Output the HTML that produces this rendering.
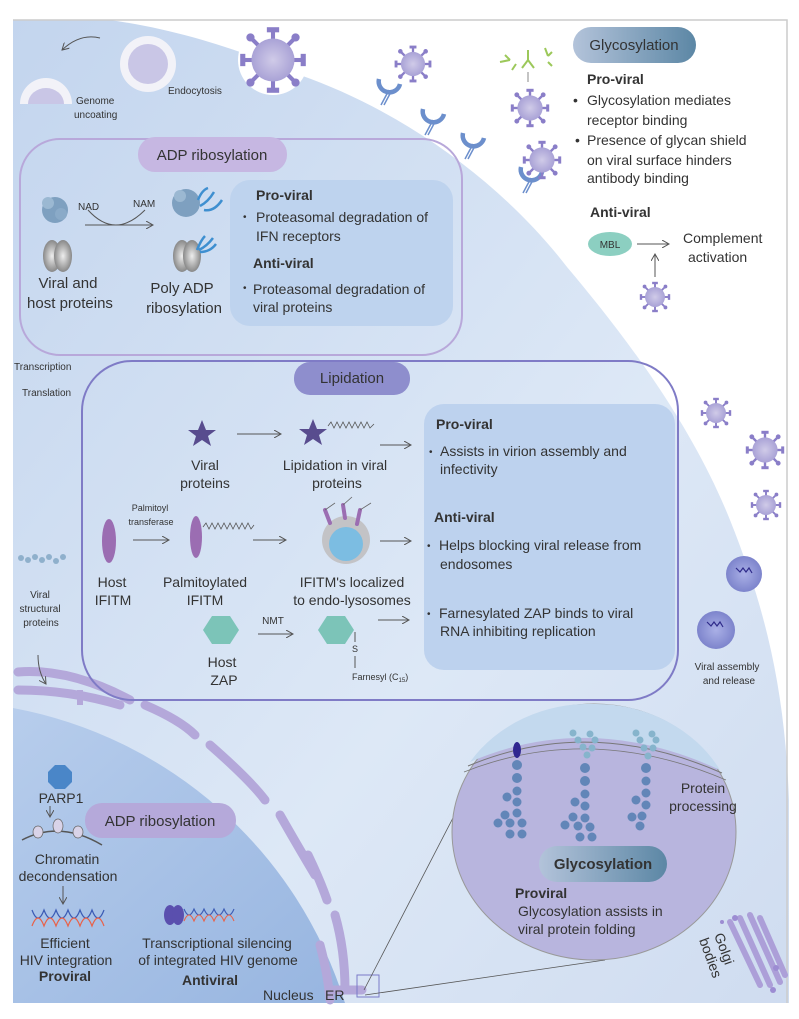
<!DOCTYPE html>
<html><head><meta charset="utf-8"><style>
html,body{margin:0;padding:0;background:#fff;}
svg{display:block;font-family:"Liberation Sans",sans-serif;}
.t{font-size:14px;fill:#333;}
.s{font-size:10px;fill:#333;}
.b{font-size:14px;font-weight:bold;fill:#333;}
</style></head><body>
<svg width="799" height="1019" viewBox="0 0 799 1019" xmlns="http://www.w3.org/2000/svg">
<defs>
<linearGradient id="cell" x1="0" y1="0" x2="1" y2="1"><stop offset="0" stop-color="#c3d5ee"/><stop offset="0.6" stop-color="#dde8f6"/><stop offset="1" stop-color="#cfdcf0"/></linearGradient>
<linearGradient id="nuc" x1="0" y1="0" x2="1" y2="1"><stop offset="0" stop-color="#b7cdec"/><stop offset="1" stop-color="#97b5e0"/></linearGradient>
<linearGradient id="gly" x1="0" y1="0" x2="1" y2="0"><stop offset="0" stop-color="#b3c3da"/><stop offset="1" stop-color="#5c87a5"/></linearGradient>
<radialGradient id="vir"><stop offset="0" stop-color="#d0cbe8"/><stop offset="1" stop-color="#a9a2d6"/></radialGradient>
<radialGradient id="blob"><stop offset="0" stop-color="#aab0e6"/><stop offset="1" stop-color="#7d84cc"/></radialGradient>
<radialGradient id="gray"><stop offset="0" stop-color="#eee"/><stop offset="1" stop-color="#888"/></radialGradient>
<marker id="ar" markerWidth="8" markerHeight="8" refX="7" refY="4" orient="auto"><path d="M0,0 L7,4 L0,8" fill="none" stroke="#555" stroke-width="1"/></marker>
<g id="virus">
 <g stroke="#8a7ec8" stroke-width="2">
  <line x1="0" y1="-10" x2="0" y2="-14"/><line x1="0" y1="10" x2="0" y2="14"/><line x1="-10" y1="0" x2="-14" y2="0"/><line x1="10" y1="0" x2="14" y2="0"/>
  <line x1="7" y1="7" x2="10" y2="10"/><line x1="-7" y1="7" x2="-10" y2="10"/><line x1="7" y1="-7" x2="10" y2="-10"/><line x1="-7" y1="-7" x2="-10" y2="-10"/>
 </g>
 <g fill="#8a7ec8">
  <rect x="-3" y="-16" width="6" height="2.5"/><rect x="-3" y="13.5" width="6" height="2.5"/><rect x="-16" y="-3" width="2.5" height="6"/><rect x="13.5" y="-3" width="2.5" height="6"/>
  <circle cx="11" cy="11" r="2"/><circle cx="-11" cy="11" r="2"/><circle cx="11" cy="-11" r="2"/><circle cx="-11" cy="-11" r="2"/>
 </g>
 <circle r="10.5" fill="url(#vir)"/>
</g>
<g id="rec" fill="none" stroke="#6c8fcc" stroke-width="4.5"><path d="M-11,-14 A10,10 0 0,0 10,-9"/><line x1="-1" y1="-3" x2="-9" y2="12" stroke-width="1.5"/><line x1="2" y1="-3" x2="-6" y2="12" stroke-width="1.5"/></g>
</defs>

<rect width="799" height="1019" fill="#fff"/>
<path d="M13,20 L110,20 C180,30 240,50 300,75 C400,110 500,180 567,267 C620,330 690,420 730,520 C770,620 785,700 789,800 L789,1003 L13,1003 Z" fill="url(#cell)"/>
<path d="M13,20 L787,20 L787,1003" fill="none" stroke="#ccc" stroke-width="1.5"/>
<path d="M13,708 A430,430 0 0,1 345,1003 L13,1003 Z" fill="url(#nuc)"/>
<g fill="none" stroke="#b4a8da" stroke-width="9" stroke-linecap="round">
<path d="M18,672 Q70,668 130,700"/><path d="M18,690 Q70,690 120,705"/>
<path d="M145,705 Q180,720 195,735"/><path d="M210,745 Q250,780 265,800"/>
<path d="M280,815 Q300,850 315,875"/><path d="M308,855 Q320,880 327,900"/>
<path d="M335,915 Q345,950 345,990"/><path d="M320,945 Q328,975 330,1000"/>
<path d="M330,990 L362,990"/>
</g>
<path d="M80,705 L80,690" stroke="#b4a8da" stroke-width="6"/>

<path d="M100,38 Q80,33 62,50" fill="none" stroke="#555" stroke-width="1" marker-end="url(#ar)"/>
<circle cx="148" cy="64" r="28" fill="#f2f2f8"/><circle cx="148" cy="64" r="20" fill="#c9c6e6"/>
<path d="M20,104 A26,26 0 0,1 72,104 L62,104 A16,14 0 0,0 30,104 Z" fill="#f2f2f8"/><path d="M28,104 A18,16 0 0,1 64,104 Z" fill="#c9c6e6"/>
<text class="s" x="76" y="104">Genome</text><text class="s" x="74" y="118">uncoating</text>
<text class="s" x="168" y="94">Endocytosis</text>
<circle cx="273" cy="60" r="35" fill="#fff"/>
<use href="#virus" transform="translate(273,60) scale(2.05)"/>
<use href="#virus" transform="translate(413,64) scale(1.15)"/>
<use href="#rec" transform="translate(390,93)"/><use href="#rec" transform="translate(434,123)"/><use href="#rec" transform="translate(474,147)"/><use href="#rec" transform="translate(532,181)"/>
<g stroke="#9cc85a" stroke-width="2" fill="none"><path d="M528,50 L528,60 M522,68 L528,60 L534,68"/><path d="M505,55 L510,60 M500,62 L510,60"/><path d="M545,48 L548,56 M552,52 L548,56"/><path d="M512,70 L516,64"/><path d="M548,62 L552,66"/></g>
<line x1="528" y1="72" x2="528" y2="82" stroke="#888"/>
<use href="#virus" transform="translate(530,108) scale(1.2)"/>
<use href="#virus" transform="translate(542,160) scale(1.2)"/>
<rect x="573" y="27" width="123" height="36" rx="18" fill="url(#gly)"/>
<text x="634" y="50" text-anchor="middle" style="font-size:15px;fill:#333">Glycosylation</text>
<text class="b" x="587" y="84">Pro-viral</text>
<text class="t" x="573" y="105">•</text><text class="t" x="587" y="105">Glycosylation mediates</text>
<text class="t" x="587" y="125">receptor binding</text>
<text class="t" x="575" y="145">•</text><text class="t" x="587" y="145">Presence of glycan shield</text>
<text class="t" x="587" y="165">on viral surface hinders</text>
<text class="t" x="587" y="183">antibody binding</text>
<text class="b" x="590" y="217">Anti-viral</text>
<ellipse cx="610" cy="244" rx="22" ry="12" fill="#8ccfc1"/><text x="610" y="248" text-anchor="middle" style="font-size:10px;fill:#333">MBL</text>
<line x1="637" y1="244" x2="669" y2="244" stroke="#555" marker-end="url(#ar)"/>
<line x1="655" y1="277" x2="655" y2="254" stroke="#555" marker-end="url(#ar)"/>
<text class="t" x="683" y="243">Complement</text><text class="t" x="688" y="262">activation</text>
<use href="#virus" transform="translate(655,297) scale(0.95)"/>

<rect x="20" y="139" width="442" height="216" rx="40" fill="none" stroke="#b8a8da" stroke-width="2"/>
<rect x="230" y="180" width="223" height="146" rx="20" fill="#bed3ee"/>
<rect x="138" y="137" width="149" height="35" rx="17" fill="#c6b7e2"/>
<text x="212" y="160" text-anchor="middle" style="font-size:15px;fill:#333">ADP ribosylation</text>
<circle cx="55" cy="210" r="13" fill="#7ea0c0"/><circle cx="48" cy="203" r="6" fill="#9bb8d2"/><circle cx="61" cy="214" r="6" fill="#8aaac8"/>
<ellipse cx="52" cy="256" rx="9" ry="16" fill="url(#gray)"/><ellipse cx="63" cy="256" rx="9" ry="16" fill="url(#gray)"/>
<text class="s" x="78" y="210">NAD</text><text class="s" x="133" y="207">NAM</text>
<path d="M88,210 Q115,240 145,210" fill="none" stroke="#555"/>
<line x1="85" y1="225" x2="153" y2="225" stroke="#555" marker-end="url(#ar)"/>
<circle cx="186" cy="203" r="14" fill="#7ea0c0"/><circle cx="180" cy="196" r="6" fill="#9bb8d2"/>
<path d="M198,200 q4,-10 10,-12 M200,206 q8,-4 14,-14 M204,210 q10,2 18,-10" fill="none" stroke="#3e8fd0" stroke-width="2.5"/>
<ellipse cx="182" cy="256" rx="9" ry="16" fill="url(#gray)"/><ellipse cx="192" cy="256" rx="9" ry="16" fill="url(#gray)"/>
<path d="M197,250 q4,-10 8,-14 M199,250 q8,-4 14,-12 M200,252 q10,0 16,-8" fill="none" stroke="#3e8fd0" stroke-width="2.5"/>
<text x="68" y="288" text-anchor="middle" style="font-size:15px;fill:#333">Viral and</text>
<text x="70" y="308" text-anchor="middle" style="font-size:15px;fill:#333">host proteins</text>
<text x="182" y="293" text-anchor="middle" style="font-size:15px;fill:#333">Poly ADP</text>
<text x="184" y="313" text-anchor="middle" style="font-size:15px;fill:#333">ribosylation</text>
<text class="b" x="256" y="200">Pro-viral</text>
<text class="s" x="243" y="220">•</text><text class="t" x="256" y="222">Proteasomal degradation of</text>
<text class="t" x="256" y="241">IFN receptors</text>
<text class="b" x="253" y="268">Anti-viral</text>
<text class="s" x="243" y="291">•</text><text class="t" x="253" y="294">Proteasomal degradation of</text>
<text class="t" x="253" y="312">viral proteins</text>

<text class="s" x="14" y="370">Transcription</text>
<text class="s" x="22" y="396">Translation</text>

<rect x="82" y="361" width="596" height="339" rx="50" fill="none" stroke="#7f7bc6" stroke-width="2"/>
<rect x="424" y="404" width="251" height="266" rx="20" fill="#bdd2ee"/>
<rect x="294" y="362" width="116" height="33" rx="16" fill="#8e8ecd"/>
<text x="352" y="383" text-anchor="middle" style="font-size:15px;fill:#333">Lipidation</text>
<polygon points="202,420 206,430 216,430 208,436 211,446 202,440 193,446 196,436 188,430 198,430" fill="#584c8e"/>
<polygon points="313,419 317,429 327,429 319,435 322,445 313,439 304,445 307,435 299,429 309,429" fill="#584c8e"/>
<polyline points="328,426 331,422 334,428 337,422 340,428 343,422 346,428 349,422 352,428 355,422 358,428 361,422 364,428 367,422 370,428 374,424" fill="none" stroke="#555" stroke-width="0.8"/>
<line x1="237" y1="434" x2="281" y2="434" stroke="#555" marker-end="url(#ar)"/>
<line x1="380" y1="445" x2="411" y2="445" stroke="#555" marker-end="url(#ar)"/>
<text class="t" x="205" y="470" text-anchor="middle">Viral</text><text class="t" x="205" y="488" text-anchor="middle">proteins</text>
<text class="t" x="335" y="470" text-anchor="middle">Lipidation in viral</text><text class="t" x="337" y="488" text-anchor="middle">proteins</text>
<text class="b" x="436" y="429">Pro-viral</text>
<text class="s" x="429" y="455">•</text><text class="t" x="440" y="456">Assists in virion assembly and</text>
<text class="t" x="440" y="474">infectivity</text>
<text class="b" x="434" y="522">Anti-viral</text>
<text class="s" x="427" y="549">•</text><text class="t" x="439" y="550">Helps blocking viral release from</text>
<text class="t" x="440" y="569">endosomes</text>
<text class="s" x="427" y="617">•</text><text class="t" x="439" y="618">Farnesylated ZAP binds to viral</text>
<text class="t" x="440" y="636">RNA inhibiting replication</text>

<ellipse cx="109" cy="541" rx="7" ry="22" fill="#9b6db2"/>
<text x="150" y="511" text-anchor="middle" style="font-size:9px;fill:#333">Palmitoyl</text>
<text x="151" y="525" text-anchor="middle" style="font-size:9px;fill:#333">transferase</text>
<line x1="133" y1="540" x2="169" y2="540" stroke="#555" marker-end="url(#ar)"/>
<ellipse cx="196" cy="537" rx="6" ry="21" fill="#9b6db2"/>
<polyline points="203,527 206,523 209,529 212,523 215,529 218,523 221,529 224,523 227,529 230,523 233,529 236,523 239,529 242,523 245,529 248,523 251,529 254,525" fill="none" stroke="#555" stroke-width="0.8"/>
<line x1="253" y1="540" x2="286" y2="540" stroke="#555" marker-end="url(#ar)"/>
<circle cx="346" cy="540" r="24" fill="#c3c3c6"/><circle cx="346" cy="544" r="17" fill="#7cbde2"/>
<g stroke="#9b6db2" stroke-width="4" stroke-linecap="round"><line x1="330" y1="523" x2="325" y2="510"/><line x1="345" y1="518" x2="343" y2="505"/><line x1="357" y1="524" x2="360" y2="510"/></g>
<g stroke="#666" stroke-width="0.8"><line x1="325" y1="510" x2="335" y2="503"/><line x1="343" y1="505" x2="352" y2="497"/><line x1="360" y1="510" x2="371" y2="503"/></g>
<line x1="380" y1="541" x2="411" y2="541" stroke="#555" marker-end="url(#ar)"/>
<text class="t" x="112" y="587" text-anchor="middle">Host</text><text class="t" x="113" y="605" text-anchor="middle">IFITM</text>
<text class="t" x="205" y="587" text-anchor="middle">Palmitoylated</text><text class="t" x="205" y="605" text-anchor="middle">IFITM</text>
<text class="t" x="352" y="587" text-anchor="middle">IFITM's localized</text><text class="t" x="352" y="605" text-anchor="middle">to endo-lysosomes</text>
<polygon points="212,616 230,616 239,630 230,644 212,644 203,630" fill="#7cc4b8"/>
<text class="t" x="222" y="667" text-anchor="middle">Host</text><text class="t" x="224" y="685" text-anchor="middle">ZAP</text>
<text class="s" x="273" y="624" text-anchor="middle">NMT</text>
<line x1="258" y1="634" x2="293" y2="634" stroke="#555" marker-end="url(#ar)"/>
<polygon points="327,616 345,616 354,630 345,644 327,644 318,630" fill="#7cc4b8"/>
<line x1="355" y1="632" x2="355" y2="642" stroke="#555"/><text x="352" y="652" style="font-size:9px;fill:#333">S</text>
<line x1="355" y1="656" x2="355" y2="668" stroke="#555"/>
<text x="352" y="680" style="font-size:9px;fill:#333">Farnesyl (C<tspan style="font-size:6px" dy="2">15</tspan><tspan dy="-2">)</tspan></text>
<line x1="378" y1="620" x2="409" y2="620" stroke="#555" marker-end="url(#ar)"/>

<g fill="#8fb0cc"><circle cx="21" cy="558" r="3"/><circle cx="28" cy="560" r="3"/><circle cx="35" cy="557" r="3"/><circle cx="42" cy="560" r="3"/><circle cx="49" cy="557" r="3"/><circle cx="56" cy="561" r="3"/><circle cx="63" cy="557" r="3"/></g>
<text class="s" x="40" y="598" text-anchor="middle">Viral</text><text class="s" x="40" y="612" text-anchor="middle">structural</text><text class="s" x="41" y="626" text-anchor="middle">proteins</text>
<path d="M38,655 Q38,672 46,684" fill="none" stroke="#555" marker-end="url(#ar)"/>

<use href="#virus" transform="translate(716,413) scale(0.95)"/>
<use href="#virus" transform="translate(765,450) scale(1.2)"/>
<use href="#virus" transform="translate(766,505) scale(0.95)"/>
<circle cx="744" cy="574" r="18" fill="url(#blob)"/><path d="M736,568 l4,4 l3,-4 l3,4 l3,-4 l3,5" fill="none" stroke="#2e2a8a" stroke-width="1.2"/>
<circle cx="716" cy="630" r="19" fill="url(#blob)"/><path d="M707,622 l4,4 l3,-4 l3,4 l3,-4 l3,5" fill="none" stroke="#2e2a8a" stroke-width="1.2"/>
<text class="s" x="727" y="670" text-anchor="middle">Viral assembly</text><text class="s" x="729" y="684" text-anchor="middle">and release</text>

<polygon points="55,765 65,765 72,772 72,782 65,789 55,789 48,782 48,772" fill="#4a86c8"/>
<text class="t" x="61" y="803" text-anchor="middle">PARP1</text>
<line x1="50" y1="806" x2="50" y2="817" stroke="#555" marker-end="url(#ar)"/>
<path d="M22,840 Q60,820 102,845" fill="none" stroke="#555" stroke-width="1.5"/>
<ellipse cx="38" cy="832" rx="5" ry="6" fill="#d9d3e8" stroke="#666" stroke-width="0.7"/><ellipse cx="58" cy="826" rx="5" ry="7" fill="#d9d3e8" stroke="#666" stroke-width="0.7"/><ellipse cx="78" cy="832" rx="5" ry="6" fill="#d9d3e8" stroke="#666" stroke-width="0.7"/>
<text class="t" x="67" y="864" text-anchor="middle">Chromatin</text><text class="t" x="68" y="881" text-anchor="middle">decondensation</text>
<line x1="63" y1="886" x2="63" y2="904" stroke="#555" marker-end="url(#ar)"/>
<path d="M32,910 q6,16 12,0 q6,16 12,0 q6,16 12,0 q6,16 12,0 q6,16 12,0 q6,16 12,0" fill="none" stroke="#3b5bb5" stroke-width="1.2"/>
<path d="M32,926 q6,-16 12,0 q6,-16 12,0 q6,-16 12,0 q6,-16 12,0 q6,-16 12,0 q6,-16 12,0" fill="none" stroke="#e8624a" stroke-width="1.2"/>
<text class="t" x="65" y="948" text-anchor="middle">Efficient</text><text class="t" x="66" y="965" text-anchor="middle">HIV integration</text>
<text class="b" x="65" y="981" text-anchor="middle">Proviral</text>
<ellipse cx="170" cy="915" rx="6" ry="10" fill="#5a4fae"/><ellipse cx="178" cy="915" rx="6" ry="10" fill="#5a4fae"/>
<path d="M184,909 q5,12 10,0 q5,12 10,0 q5,12 10,0 q5,12 10,0 q5,12 10,0" fill="none" stroke="#3b5bb5" stroke-width="1.1"/>
<path d="M184,921 q5,-12 10,0 q5,-12 10,0 q5,-12 10,0 q5,-12 10,0 q5,-12 10,0" fill="none" stroke="#e8624a" stroke-width="1.1"/>
<text class="t" x="217" y="948" text-anchor="middle">Transcriptional silencing</text>
<text class="t" x="218" y="965" text-anchor="middle">of integrated HIV genome</text>
<text class="b" x="210" y="985" text-anchor="middle">Antiviral</text>
<rect x="85" y="803" width="151" height="35" rx="17" fill="#b5a9da"/>
<text x="160" y="826" text-anchor="middle" style="font-size:15px;fill:#333">ADP ribosylation</text>
<text class="t" x="263" y="1000">Nucleus</text><text class="t" x="325" y="1000">ER</text>
<rect x="357" y="975" width="22" height="22" fill="none" stroke="#7a7ac8" stroke-width="1"/>
<line x1="364" y1="990" x2="470" y2="785" stroke="#555" stroke-width="0.8"/>
<line x1="365" y1="995" x2="605" y2="960" stroke="#555" stroke-width="0.8"/>

<ellipse cx="594" cy="832" rx="142" ry="128" fill="#b8b5de" stroke="#999" stroke-width="1"/>
<path d="M470,762 Q590,710 720,770 A142,128 0 0,0 594,704 A142,128 0 0,0 470,762 Z" fill="#c3d9ee"/>
<path d="M468,766 Q590,715 722,773" fill="none" stroke="#777" stroke-width="1"/>
<path d="M464,772 Q590,722 726,780" fill="none" stroke="#777" stroke-width="0.8"/>
<ellipse cx="517" cy="750" rx="4" ry="8" fill="#2f2790"/>
<g fill="#6286b8">
<circle cx="517" cy="765" r="5"/><circle cx="517" cy="778" r="5"/><circle cx="517" cy="791" r="4.5"/><circle cx="517" cy="802" r="4.5"/><circle cx="507" cy="797" r="4.5"/><circle cx="517" cy="813" r="4.5"/><circle cx="505" cy="815" r="4.5"/><circle cx="498" cy="823" r="4.5"/><circle cx="510" cy="823" r="4.5"/><circle cx="522" cy="823" r="4.5"/><circle cx="510" cy="834" r="4.5"/><circle cx="522" cy="834" r="4.5"/>
<circle cx="585" cy="768" r="5"/><circle cx="585" cy="781" r="5"/><circle cx="585" cy="794" r="4.5"/><circle cx="585" cy="806" r="4.5"/><circle cx="575" cy="802" r="4.5"/><circle cx="585" cy="818" r="4.5"/><circle cx="573" cy="817" r="4.5"/><circle cx="565" cy="825" r="4.5"/><circle cx="578" cy="826" r="4.5"/><circle cx="590" cy="827" r="4.5"/><circle cx="580" cy="837" r="4.5"/><circle cx="592" cy="837" r="4.5"/>
<circle cx="646" cy="768" r="5"/><circle cx="646" cy="781" r="4.5"/><circle cx="646" cy="793" r="4.5"/><circle cx="646" cy="805" r="4.5"/><circle cx="636" cy="800" r="4.5"/><circle cx="642" cy="816" r="4.5"/><circle cx="632" cy="817" r="4.5"/><circle cx="640" cy="826" r="4.5"/>
</g>
<g fill="#86b4cc">
<circle cx="573" cy="733" r="3.5"/><circle cx="578" cy="740" r="3.5"/><circle cx="583" cy="747" r="3.5"/><circle cx="587" cy="755" r="3.5"/><circle cx="592" cy="748" r="3.5"/><circle cx="595" cy="740" r="3.5"/><circle cx="590" cy="734" r="3.5"/>
<circle cx="636" cy="733" r="3.5"/><circle cx="640" cy="740" r="3.5"/><circle cx="644" cy="748" r="3.5"/><circle cx="648" cy="756" r="3.5"/><circle cx="653" cy="748" r="3.5"/><circle cx="656" cy="740" r="3.5"/><circle cx="652" cy="734" r="3.5"/>
</g>
<text class="t" x="703" y="793" text-anchor="middle">Protein</text><text class="t" x="703" y="811" text-anchor="middle">processing</text>
<rect x="539" y="846" width="128" height="36" rx="18" fill="url(#gly)"/>
<text x="603" y="869" text-anchor="middle" style="font-size:15px;font-weight:bold;fill:#333">Glycosylation</text>
<text class="b" x="515" y="898">Proviral</text>
<text class="t" x="518" y="916">Glycosylation assists in</text>
<text class="t" x="518" y="934">viral protein folding</text>

<g stroke="#ac9fd8" stroke-width="6" stroke-linecap="round"><line x1="730" y1="922" x2="760" y2="985"/><line x1="740" y1="918" x2="770" y2="985"/><line x1="750" y1="915" x2="780" y2="982"/><line x1="760" y1="918" x2="785" y2="975"/></g>
<g fill="#9c8cd2"><circle cx="735" cy="918" r="3"/><circle cx="773" cy="990" r="3"/><circle cx="776" cy="968" r="3"/><circle cx="722" cy="922" r="2"/></g>
<text transform="translate(714,935) rotate(70)" style="font-size:14px;fill:#333">Golgi</text>
<text transform="translate(699,940) rotate(70)" style="font-size:14px;fill:#333">bodies</text>
</svg>
</body></html>
